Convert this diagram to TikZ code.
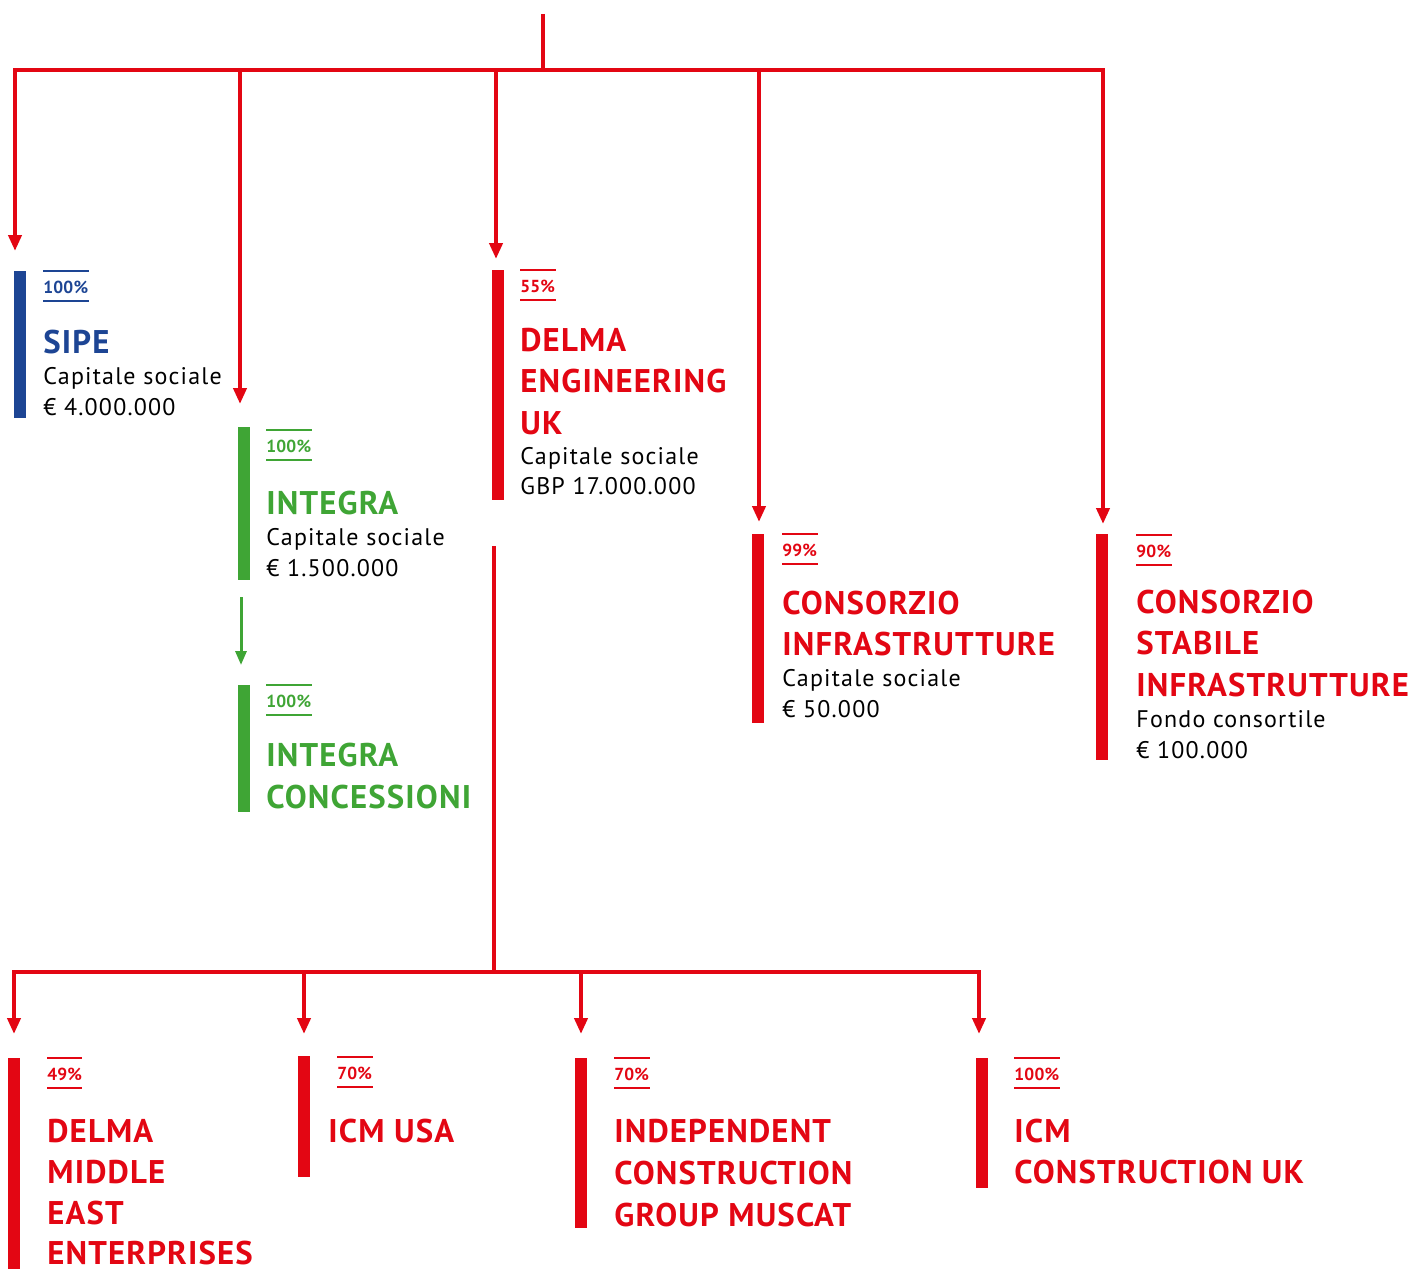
\documentclass[tikz,border=0pt]{standalone}
\usepackage{fontspec}
\setmainfont{PT Sans}
\newfontfamily\ttlfont[LetterSpace=3.5]{PT Sans}
\newfontfamily\bodyfont[LetterSpace=5]{PT Sans}
\newfontfamily\pctfont[LetterSpace=1]{PT Sans}
\usetikzlibrary{arrows.meta,calc}
\definecolor{cred}{HTML}{E30613}
\definecolor{cblue}{HTML}{1D4594}
\definecolor{cgreen}{HTML}{3FA535}
\tikzset{
  link/.style={draw=cred, line width=2pt},
  arr/.style={link, -{Triangle[width=6.5pt,length=8pt]}},
  garr/.style={draw=cgreen, line width=1.5pt, -{Triangle[width=5.5pt,length=7pt]}},
  bar/.style={fill=#1, draw=none, inner sep=0pt, minimum width=5.75pt, anchor=north west},
  pct/.style={text=#1, font=\pctfont\fontsize{8.7}{11}\selectfont\bfseries, inner sep=0pt, anchor=base west},
  ttl/.style={text=#1, font=\ttlfont\fontsize{16.4}{20}\selectfont\bfseries, inner sep=0pt, anchor=base west},
  body/.style={text=black, font=\bodyfont\fontsize{12}{15}\selectfont, inner sep=0pt, anchor=base west},
  rule/.style={draw=#1, line width=0.7pt},
}
\newcommand\pctbox[5]{%
  \node[pct=#2] (#1) at (#3,#4) {#5};
  \draw[rule=#2] ($(#1.base west)+(0,-22)$) -- ($(#1.base east)+(0,-22)$);
  \draw[rule=#2] ($(#1.base west)+(0,8)$) -- ($(#1.base east)+(0,8)$);}
\begin{document}
\begin{tikzpicture}[x=0.5pt,y=-0.5pt]
\useasboundingbox (0,0) rectangle (1416,1268);

% ---------- top connectors
\coordinate (top) at (543,14);
\coordinate (hub) at (543,70);
\coordinate (tA) at (15,251);
\coordinate (tB) at (240,404);
\coordinate (tC) at (496,259);
\coordinate (tD) at (759,522);
\coordinate (tE) at (1103,524);
\draw[link] (top) -- (hub);
\draw[arr] (hub) -| (tA);
\draw[arr] (hub) -| (tB);
\draw[arr] (hub) -| (tC);
\draw[arr] (hub) -| (tD);
\draw[arr] (hub) -| (tE);

% ---------- SIPE
\node[bar=cblue, minimum height=73.5pt] (sipebar) at (14,271) {};
\pctbox{sipep}{cblue}{43}{293}{100\%}
\node[ttl=cblue] (sipet) at (43,353) {SIPE};
\node[body] (sipeb1) at (43,384) {Capitale sociale};
\node[body] (sipeb2) at (43,415) {€ 4.000.000};

% ---------- INTEGRA
\node[bar=cgreen, minimum height=76.5pt] (intbar) at (238,427) {};
\pctbox{intp}{cgreen}{266}{452}{100\%}
\node[ttl=cgreen] (intt) at (266,514) {INTEGRA};
\node[body] (intb1) at (266,545) {Capitale sociale};
\node[body] (intb2) at (266,576) {€ 1.500.000};

\coordinate (gs) at (241,597);
\coordinate (gt) at (241,665);
\draw[garr] (gs) -- (gt);

% ---------- INTEGRA CONCESSIONI
\node[bar=cgreen, minimum height=63.5pt] (icbar) at (238,685) {};
\pctbox{icp}{cgreen}{266}{707}{100\%}
\node[ttl=cgreen] (ict1) at (266,766) {INTEGRA};
\node[ttl=cgreen] (ict2) at (266,808) {CONCESSIONI};

% ---------- DELMA ENGINEERING UK
\node[bar=cred, minimum height=115pt] (debar) at (492,270) {};
\pctbox{dep}{cred}{520}{292}{55\%}
\node[ttl=cred] (det1) at (520,351) {DELMA};
\node[ttl=cred] (det2) at (520,392) {ENGINEERING};
\node[ttl=cred] (det3) at (520,434) {UK};
\node[body] (deb1) at (520,464) {Capitale sociale};
\node[body] (deb2) at (520,494) {GBP 17.000.000};

% ---------- CONSORZIO INFRASTRUTTURE
\node[bar=cred, minimum height=94.5pt] (cibar) at (752,534) {};
\pctbox{cip}{cred}{782}{556}{99\%}
\node[ttl=cred] (cit1) at (782,614) {CONSORZIO};
\node[ttl=cred] (cit2) at (782,655) {INFRASTRUTTURE};
\node[body] (cib1) at (782,686) {Capitale sociale};
\node[body] (cib2) at (782,717) {€ 50.000};

% ---------- CONSORZIO STABILE INFRASTRUTTURE
\node[bar=cred, minimum height=113pt] (csbar) at (1096,534) {};
\pctbox{csp}{cred}{1136}{557}{90\%}
\node[ttl=cred] (cst1) at (1136,613) {CONSORZIO};
\node[ttl=cred] (cst2) at (1136,654) {STABILE};
\node[ttl=cred] (cst3) at (1136,696) {INFRASTRUTTURE};
\node[body] (csb1) at (1136,727) {Fondo consortile};
\node[body] (csb2) at (1136,758) {€ 100.000};

% ---------- lower connectors
\coordinate (ls) at (494,546);
\coordinate (lh) at (494,972);
\coordinate (uA) at (14,1034);
\coordinate (uB) at (304,1034);
\coordinate (uC) at (581,1034);
\coordinate (uD) at (979,1034);
\draw[link] (ls) -- (lh);
\draw[arr] (lh) -| (uA);
\draw[arr] (lh) -| (uB);
\draw[arr] (lh) -| (uC);
\draw[arr] (lh) -| (uD);

% ---------- DELMA MIDDLE EAST ENTERPRISES
\node[bar=cred, minimum height=106pt] (dmbar) at (8,1058) {};
\pctbox{dmp}{cred}{47}{1080}{49\%}
\node[ttl=cred] (dmt1) at (47,1142) {DELMA};
\node[ttl=cred] (dmt2) at (47,1183) {MIDDLE};
\node[ttl=cred] (dmt3) at (47,1224) {EAST};
\node[ttl=cred] (dmt4) at (47,1264) {ENTERPRISES};

% ---------- ICM USA
\node[bar=cred, minimum height=60.5pt] (iubar) at (298,1056) {};
\pctbox{iup}{cred}{337}{1079}{70\%}
\node[ttl=cred] (iut) at (328,1142) {ICM USA};

% ---------- INDEPENDENT CONSTRUCTION GROUP MUSCAT
\node[bar=cred, minimum height=85pt] (imbar) at (575,1058) {};
\pctbox{imp}{cred}{614}{1080}{70\%}
\node[ttl=cred] (imt1) at (614,1142) {INDEPENDENT};
\node[ttl=cred] (imt2) at (614,1184) {CONSTRUCTION};
\node[ttl=cred] (imt3) at (614,1226) {GROUP MUSCAT};

% ---------- ICM CONSTRUCTION UK
\node[bar=cred, minimum height=65pt] (icmbar) at (976,1058) {};
\pctbox{icmp}{cred}{1014}{1080}{100\%}
\node[ttl=cred] (icmt1) at (1014,1142) {ICM};
\node[ttl=cred] (icmt2) at (1014,1183) {CONSTRUCTION UK};
\end{tikzpicture}
\end{document}
